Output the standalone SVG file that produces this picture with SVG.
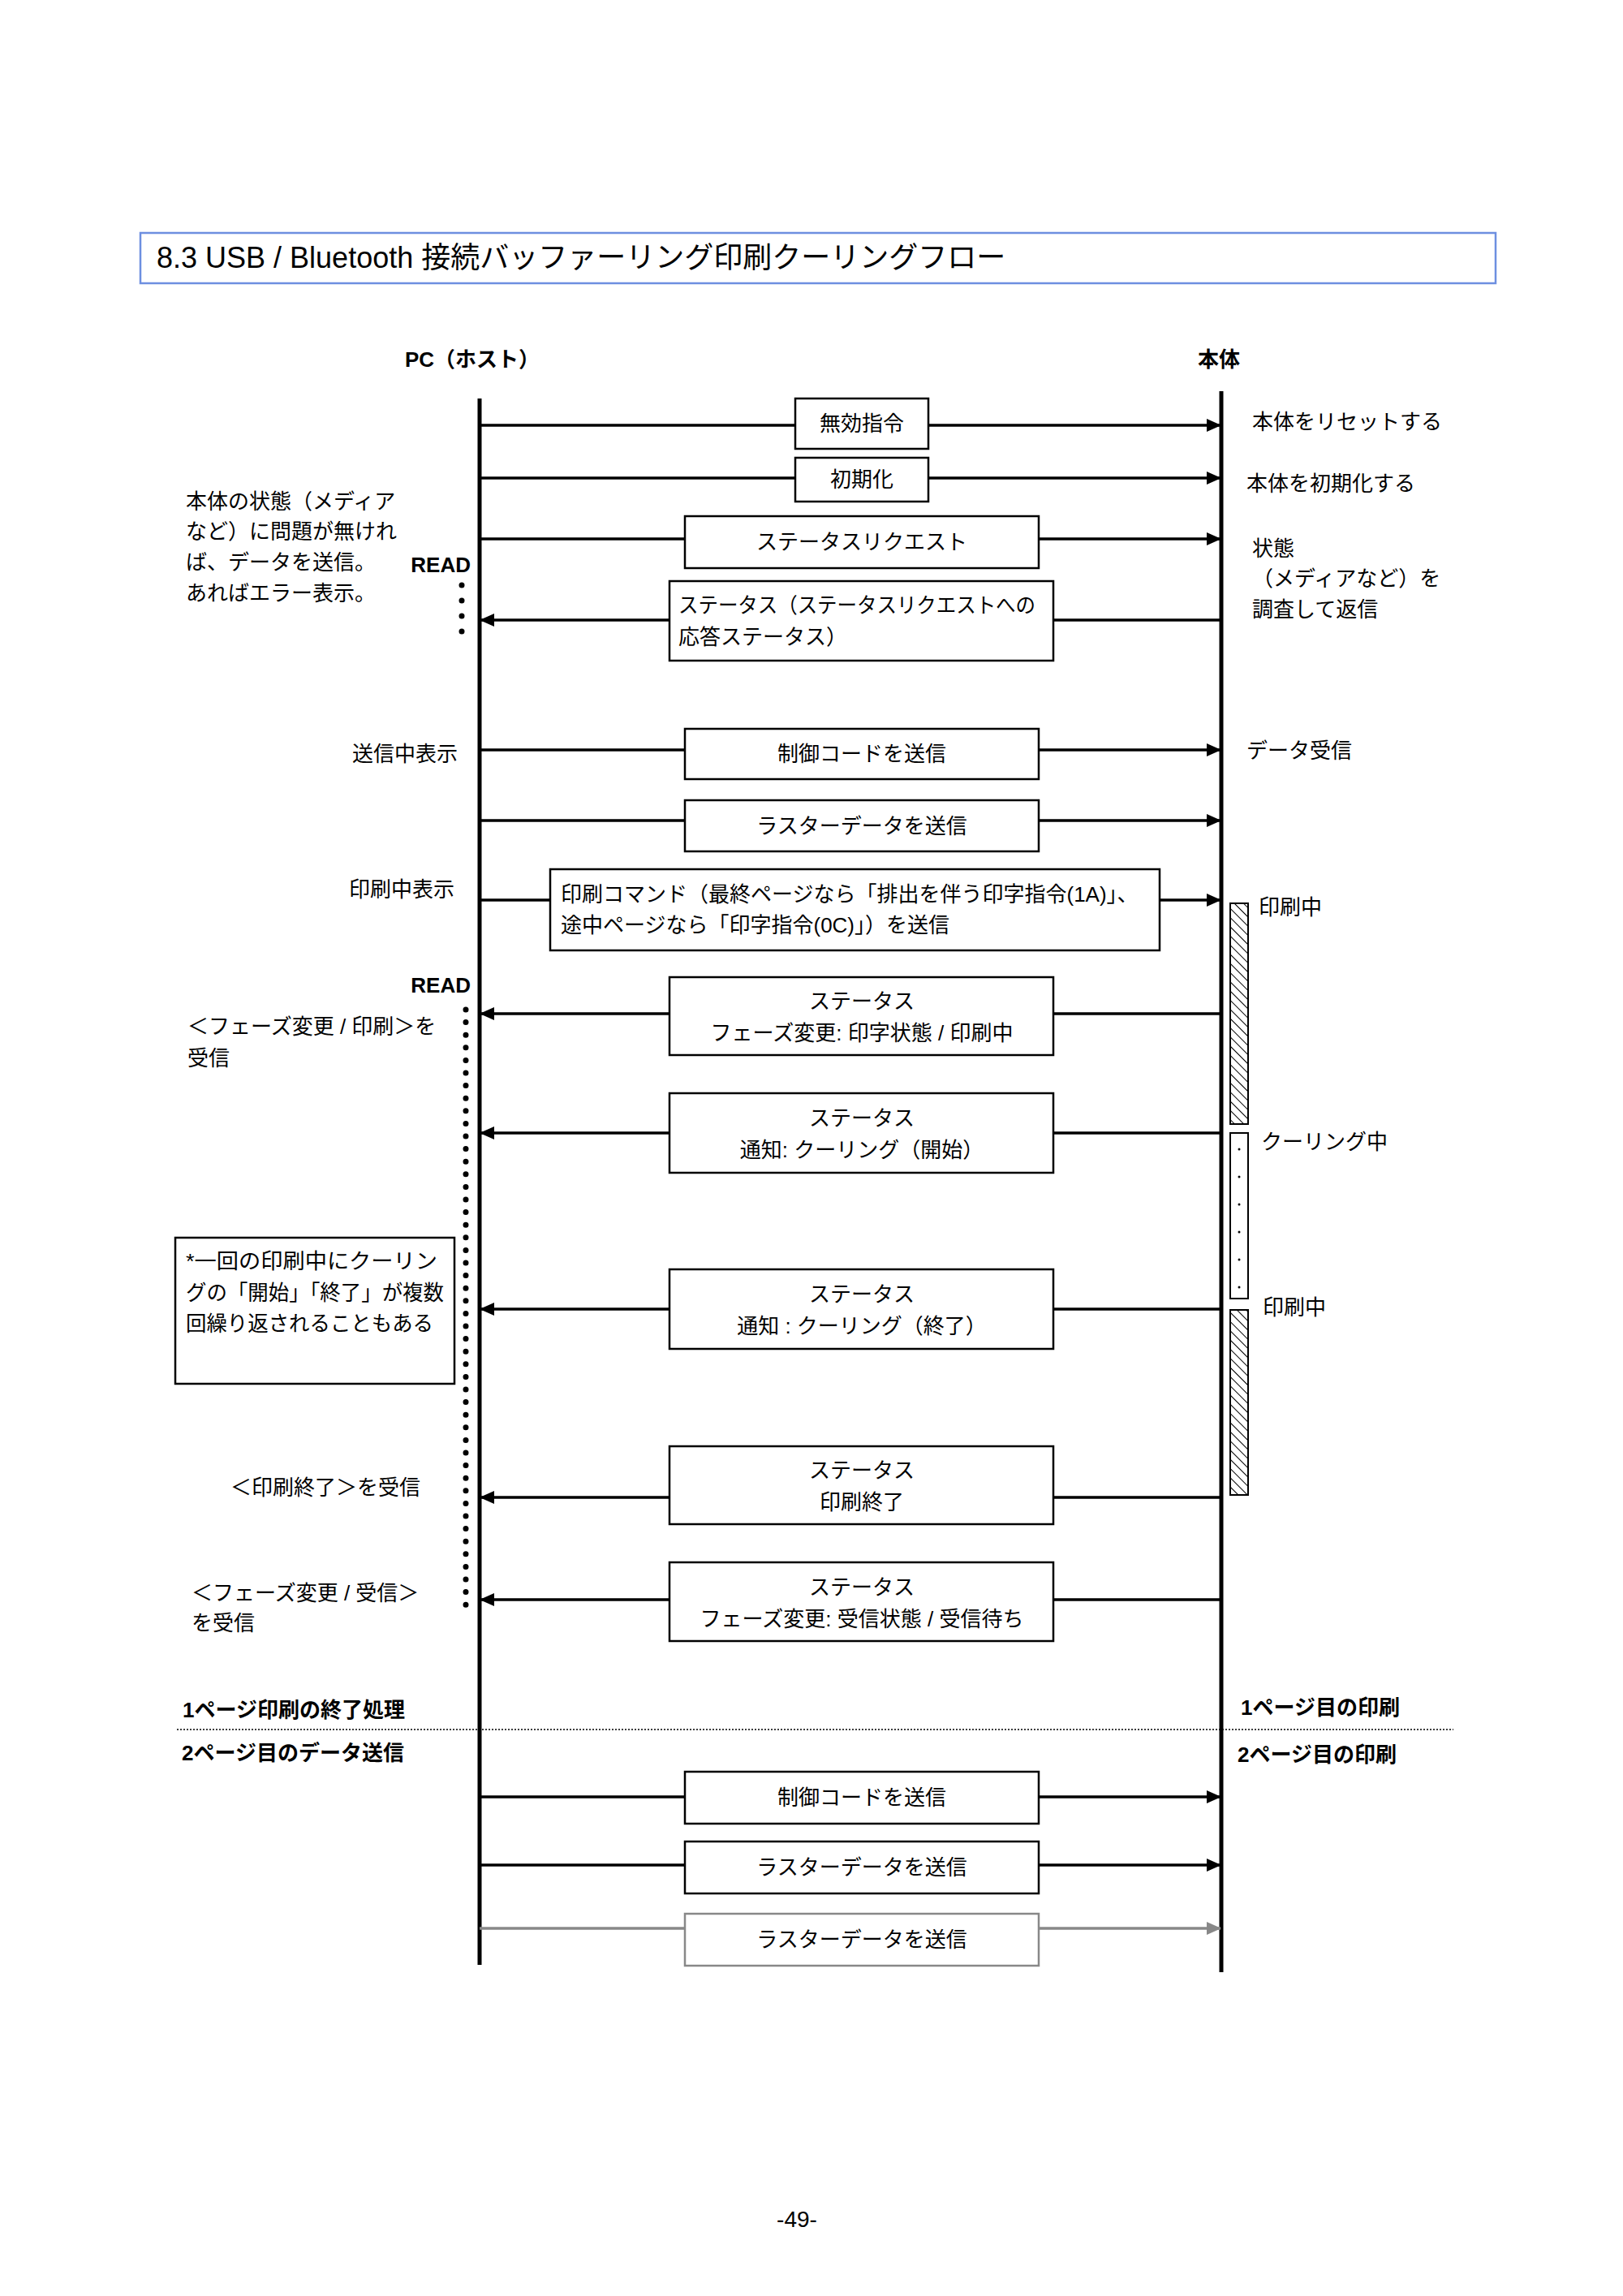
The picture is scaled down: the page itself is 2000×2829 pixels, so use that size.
<svg xmlns="http://www.w3.org/2000/svg" width="2000" height="2829" viewBox="0 0 2000 2829">
<style>
text{font-family:"Liberation Sans","Noto Sans CJK JP",sans-serif;font-size:26px;fill:#000}
.b{font-weight:bold}
.c{text-anchor:middle}
.r{text-anchor:end}
.box{fill:#fff;stroke:#000;stroke-width:2.5}
.ln{stroke:#000;stroke-width:3.5;fill:none}
.life{stroke:#000;stroke-width:5}
.dot{fill:#000}
</style>
<defs>
<marker id="ah" markerWidth="18" markerHeight="18" refX="17" refY="9" orient="auto" markerUnits="userSpaceOnUse" viewBox="0 0 18 18"><path d="M0,1L18,9L0,17z" fill="#000"/></marker>
<marker id="ahg" markerWidth="18" markerHeight="18" refX="17" refY="9" orient="auto" markerUnits="userSpaceOnUse" viewBox="0 0 18 18"><path d="M0,1L18,9L0,17z" fill="#888"/></marker>
<pattern id="hatch" width="8" height="8" patternUnits="userSpaceOnUse" patternTransform="rotate(-45)"><rect width="8" height="8" fill="#fff"/><line x1="0" y1="0" x2="0" y2="8" stroke="#000" stroke-width="2"/></pattern>
<pattern id="dots" width="22" height="34" patternUnits="userSpaceOnUse" x="1516" y="1396"><rect width="22" height="34" fill="#fff"/><circle cx="11" cy="20" r="1.5" fill="#000"/></pattern>
</defs>
<rect x="173" y="287" width="1670" height="62" fill="#fff" stroke="#6d8fe0" stroke-width="2.5"/>
<text x="193" y="330" style="font-size:36px">8.3 USB / Bluetooth 接続バッファーリング印刷クーリングフロー</text>
<text x="582" y="452" class="b c">PC（ホスト）</text>
<text x="1502" y="452" class="b c">本体</text>
<g id="lifelines">
<line class="life" x1="591" y1="491" x2="591" y2="2421"/>
<line class="life" x1="1505" y1="482" x2="1505" y2="2430"/>
</g>
<g id="connectors">
<line class="ln" x1="591" y1="524" x2="1504" y2="524" marker-end="url(#ah)"/>
<line class="ln" x1="591" y1="589" x2="1504" y2="589" marker-end="url(#ah)"/>
<line class="ln" x1="591" y1="664" x2="1504" y2="664" marker-end="url(#ah)"/>
<line class="ln" x1="1505" y1="764" x2="592" y2="764" marker-end="url(#ah)"/>
<line class="ln" x1="591" y1="924" x2="1504" y2="924" marker-end="url(#ah)"/>
<line class="ln" x1="591" y1="1011" x2="1504" y2="1011" marker-end="url(#ah)"/>
<line class="ln" x1="591" y1="1109" x2="1504" y2="1109" marker-end="url(#ah)"/>
<line class="ln" x1="1505" y1="1249" x2="592" y2="1249" marker-end="url(#ah)"/>
<line class="ln" x1="1505" y1="1396" x2="592" y2="1396" marker-end="url(#ah)"/>
<line class="ln" x1="1505" y1="1613" x2="592" y2="1613" marker-end="url(#ah)"/>
<line class="ln" x1="1505" y1="1845" x2="592" y2="1845" marker-end="url(#ah)"/>
<line class="ln" x1="1505" y1="1971" x2="592" y2="1971" marker-end="url(#ah)"/>
<line class="ln" x1="591" y1="2214" x2="1504" y2="2214" marker-end="url(#ah)"/>
<line class="ln" x1="591" y1="2298" x2="1504" y2="2298" marker-end="url(#ah)"/>
<line x1="591" y1="2376" x2="1504" y2="2376" stroke="#888" stroke-width="3.5" marker-end="url(#ahg)"/>
<line x1="218" y1="2131" x2="1791" y2="2131" stroke="#000" stroke-width="1.5" stroke-dasharray="2,2"/>
</g>
<g id="n1"><rect class="box" x="980" y="491" width="164" height="62"/><text x="1062" y="531" class="c">無効指令</text></g>
<g id="n2"><rect class="box" x="980" y="564" width="164" height="54"/><text x="1062" y="600" class="c">初期化</text></g>
<g id="n3"><rect class="box" x="844" y="636" width="436" height="64"/><text x="1062" y="677" class="c">ステータスリクエスト</text></g>
<g id="n4"><rect class="box" x="825" y="716" width="473" height="98"/><text x="836" y="755" textLength="440" lengthAdjust="spacingAndGlyphs">ステータス（ステータスリクエストへの</text><text x="836" y="794">応答ステータス）</text></g>
<g id="n5"><rect class="box" x="844" y="898" width="436" height="62"/><text x="1062" y="938" class="c">制御コードを送信</text></g>
<g id="n6"><rect class="box" x="844" y="986" width="436" height="63"/><text x="1062" y="1027" class="c">ラスターデータを送信</text></g>
<g id="n7"><rect class="box" x="678" y="1071" width="751" height="100"/><text x="691" y="1111">印刷コマンド（最終ページなら「排出を伴う印字指令(1A)」、</text><text x="691" y="1149">途中ページなら「印字指令(0C)」）を送信</text></g>
<g id="n8"><rect class="box" x="825" y="1204" width="473" height="96"/><text x="1062" y="1243" class="c">ステータス</text><text x="1062" y="1282" class="c">フェーズ変更: 印字状態 / 印刷中</text></g>
<g id="n9"><rect class="box" x="825" y="1347" width="473" height="98"/><text x="1062" y="1387" class="c">ステータス</text><text x="1062" y="1426" class="c">通知: クーリング（開始）</text></g>
<g id="n10"><rect class="box" x="825" y="1564" width="473" height="98"/><text x="1062" y="1604" class="c">ステータス</text><text x="1062" y="1643" class="c">通知 : クーリング（終了）</text></g>
<g id="n11"><rect class="box" x="825" y="1782" width="473" height="96"/><text x="1062" y="1821" class="c">ステータス</text><text x="1062" y="1860" class="c">印刷終了</text></g>
<g id="n12"><rect class="box" x="825" y="1925" width="473" height="97"/><text x="1062" y="1965" class="c">ステータス</text><text x="1062" y="2004" class="c">フェーズ変更: 受信状態 / 受信待ち</text></g>
<g id="n13"><rect class="box" x="844" y="2183" width="436" height="64"/><text x="1062" y="2224" class="c">制御コードを送信</text></g>
<g id="n14"><rect class="box" x="844" y="2269" width="436" height="64"/><text x="1062" y="2310" class="c">ラスターデータを送信</text></g>
<g id="n15"><rect x="844" y="2358" width="436" height="64" fill="#fff" stroke="#888" stroke-width="2.5"/><text x="1062" y="2399" class="c">ラスターデータを送信</text></g>
<g id="bars">
<rect x="1516" y="1113" width="22" height="272" fill="url(#hatch)" stroke="#000" stroke-width="2"/>
<rect x="1516" y="1396" width="22" height="204" fill="url(#dots)" stroke="#000" stroke-width="2"/>
<rect x="1516" y="1614" width="22" height="228" fill="url(#hatch)" stroke="#000" stroke-width="2"/>
</g>
<g id="right-labels">
<text x="1543" y="529">本体をリセットする</text>
<text x="1536" y="605">本体を初期化する</text>
<text x="1543" y="685">状態</text>
<text x="1543" y="722">（メディアなど）を</text>
<text x="1543" y="760">調査して返信</text>
<text x="1536" y="934">データ受信</text>
<text x="1551" y="1127">印刷中</text>
<text x="1554" y="1416">クーリング中</text>
<text x="1556" y="1620">印刷中</text>
<text x="1529" y="2113" class="b">1ページ目の印刷</text>
<text x="1525" y="2171" class="b">2ページ目の印刷</text>
</g>
<g id="left-labels">
<text x="229" y="627">本体の状態（メディア</text>
<text x="229" y="664">など）に問題が無けれ</text>
<text x="229" y="702">ば、データを送信。</text>
<text x="229" y="740">あればエラー表示。</text>
<text x="580" y="705" class="b r">READ</text>
<text x="580" y="1223" class="b r">READ</text>
<text x="564" y="938" class="r">送信中表示</text>
<text x="560" y="1105" class="r">印刷中表示</text>
<text x="231" y="1274">＜フェーズ変更 / 印刷＞を</text>
<text x="231" y="1313">受信</text>
<text x="284" y="1842">＜印刷終了＞を受信</text>
<text x="236" y="1972">＜フェーズ変更 / 受信＞</text>
<text x="236" y="2009">を受信</text>
<text x="225" y="2116" class="b">1ページ印刷の終了処理</text>
<text x="224" y="2169" class="b">2ページ目のデータ送信</text>
</g>
<g id="note"><rect class="box" x="216" y="1525" width="344" height="180"/>
<text x="229" y="1563" textLength="310" lengthAdjust="spacingAndGlyphs">*一回の印刷中にクーリン</text>
<text x="229" y="1602" textLength="318" lengthAdjust="spacingAndGlyphs">グの「開始」「終了」が複数</text>
<text x="229" y="1640" textLength="305" lengthAdjust="spacingAndGlyphs">回繰り返されることもある</text></g>
<g id="read-dots">
<circle class="dot" cx="569" cy="721" r="3.5"/><circle class="dot" cx="569" cy="740" r="3.5"/><circle class="dot" cx="569" cy="759" r="3.5"/><circle class="dot" cx="569" cy="778" r="3.5"/>
<line x1="574" y1="1244" x2="574" y2="1978" stroke="#000" stroke-width="7" stroke-linecap="round" stroke-dasharray="0,15.6"/>
</g>
<text x="982" y="2744" class="c" style="font-size:28px">-49-</text>
</svg>
